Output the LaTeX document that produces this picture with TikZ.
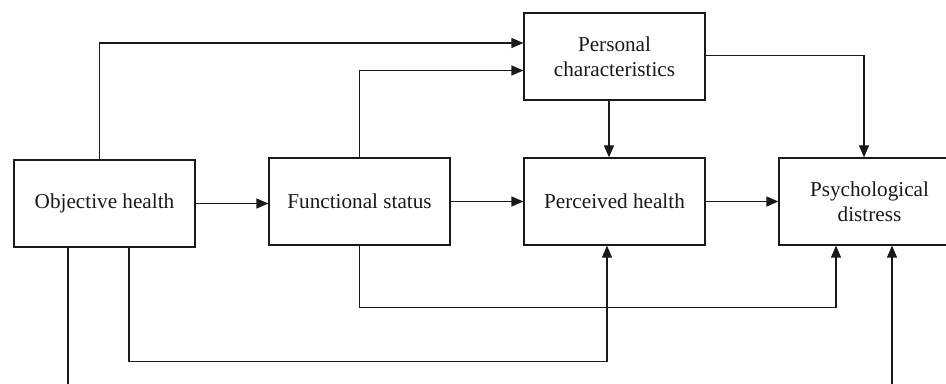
\documentclass[tikz,border=0pt]{standalone}
\usepackage{fontspec}
\setmainfont{Liberation Serif}
\usetikzlibrary{arrows.meta}
\tikzset{box/.style={draw, rectangle, inner sep=0pt, minimum width=90.5pt, minimum height=43.5pt,
    align=center, font=\fontsize{10.6}{12.5}\selectfont},
  arr/.style={-{Triangle[length=6pt,width=5pt]}}}
\begin{document}
\begin{tikzpicture}[x=0.5pt, y=-0.5pt, line width=0.6pt, black!90]
  \useasboundingbox (0,0) rectangle (946,384);
  \clip (0,0) rectangle (946,384);
  % boxes
  \node[box] (obj)   at (104.5,203.5) {Objective health};
  \node[box] (func)  at (359.5,201.5) {Functional status};
  \node[box] (pers)  at (614.5, 56.5) {Personal\\characteristics};
  \node[box] (perc)  at (614.5,201.5) {Perceived health};
  \node[box] (psych) at (869.5,201.5) {Psychological\\distress};
  % paths
  \draw[arr] (obj.north -| 99.5,0) |- (pers.west |- 0,43);
  \draw[arr] (func.north) |- (pers.west |- 0,70.5);
  \draw[arr] (obj.east) -- (obj.east -| func.west);
  \draw[arr] (func) -- (perc);
  \draw[arr] (perc) -- (psych);
  \draw[arr] (pers.south -| 609,0) -- (perc.north -| 609,0);
  \draw[arr] (pers.east |- 0,55.5) -| (psych.north -| 864,0);
  \draw[arr] (func.south) -- ++(0,62) -| (psych.south -| 836,0);
  \draw[arr] (obj.south -| 129,0) -- (129,361.5) -| (perc.south -| 607,0);
  % free ends
  \coordinate (offl) at (68,384);
  \coordinate (offr) at (892,384);
  \draw (obj.south -| offl) -- (offl);
  \draw[arr] (offr) -- (psych.south -| offr);
\end{tikzpicture}
\end{document}
